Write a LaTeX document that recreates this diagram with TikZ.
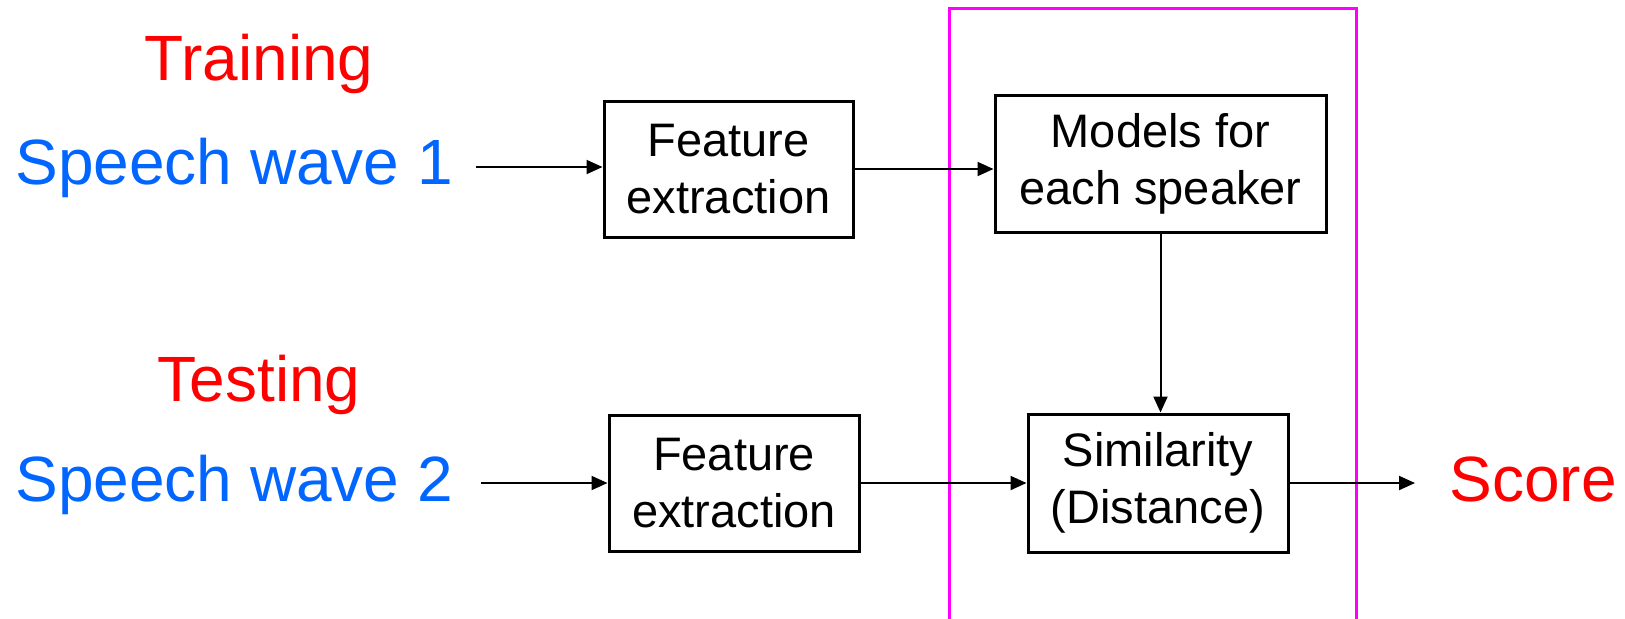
\documentclass[tikz,border=0pt]{standalone}
\usepackage{fontspec}
\setmainfont{Liberation Sans}
\usetikzlibrary{arrows.meta,calc}
\definecolor{wblue}{RGB}{0,102,255}
\definecolor{wred}{RGB}{255,0,0}
\definecolor{wmag}{RGB}{255,0,255}
\tikzset{
  blk/.style={draw=black,line width=1.5pt,rectangle,inner sep=0pt,align=center,
    font=\fontsize{23.5}{28.5}\selectfont},
  arr/.style={line width=1pt,-{Triangle[length=8pt,width=7pt]}},
  bigblue/.style={text=wblue,inner sep=0pt,font=\fontsize{32}{38}\selectfont},
  bigred/.style={text=wred,inner sep=0pt,font=\fontsize{32}{38}\selectfont},
  frame/.style={draw=wmag,line width=1.5pt}
}
\begin{document}
\begin{tikzpicture}[x=0.5pt,y=-0.5pt]
\clip (0,0) rectangle (1625,618);
\fill[white] (0,0) rectangle (1625,618);
\draw[frame] (949,8) rectangle (1356,640);
\node[bigred,anchor=base] (train) at (259,80) {Training};
\node[bigred,anchor=base] (test) at (259,401) {Testing};
\node[bigblue,anchor=base west] (sw1) at (15,184) {Speech wave 1};
\node[bigblue,anchor=base west] (sw2) at (15,501) {Speech wave 2};
\node[bigred,anchor=base west] (score) at (1449,501) {Score};
\node[blk,minimum width=124.5pt,minimum height=68pt] (fe1) at (728.5,169) {Feature\\extraction};
\node[blk,minimum width=165.5pt,minimum height=68.5pt] (models) at (1160.5,164) {Models for\\each speaker};
\node[blk,minimum width=130pt,minimum height=69pt] (sim) at (1158,483) {Similarity\\(Distance)};
\node[blk,minimum width=125pt,minimum height=68pt] (fe2) at (734,483) {Feature\\extraction};
\coordinate (a1) at (476,167);
\coordinate (a2) at (481,483);
\coordinate (sc) at (1415,483);
\draw[arr] (a1) -- (a1 -| fe1.west);
\draw[arr] (a2) -- (a2 -| fe2.west);
\draw[arr] (fe1.east) -- (fe1.east -| models.west);
\draw[arr] (models.south) -- (models.south |- sim.north);
\draw[arr] (fe2.east) -- (fe2.east -| sim.west);
\draw[arr] (sim.east) -- (sc);
\end{tikzpicture}
\end{document}
